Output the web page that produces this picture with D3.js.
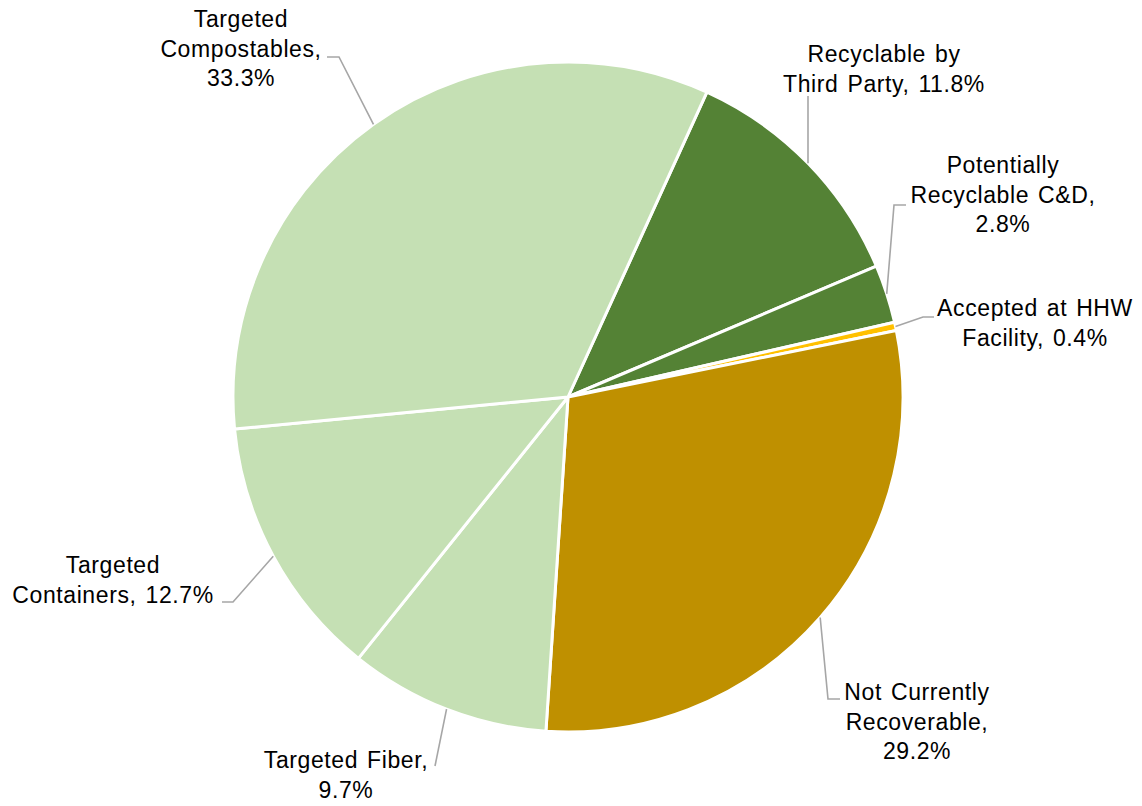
<!DOCTYPE html>
<html>
<head>
<meta charset="utf-8">
<script src="https://cdn.jsdelivr.net/npm/d3@7"></script>
<style>
  html, body { margin: 0; padding: 0; background: #ffffff; }
  svg { display: block; }
  .lbl { font-family: "Liberation Sans", Arial, sans-serif; font-size: 23px; fill: #000; letter-spacing: 0.6px; word-spacing: 2px; }
</style>
</head>
<body>
<svg id="chart" width="1142" height="806"></svg>
<script>
// Waste composition shares (percent), in clockwise drawing order
const categories = [
  "Recyclable by Third Party",
  "Potentially Recyclable C&D",
  "Accepted at HHW Facility",
  "Not Currently Recoverable",
  "Targeted Fiber",
  "Targeted Containers",
  "Targeted Compostables"
];
const shares = [11.8, 2.8, 0.4, 29.2, 9.7, 12.7, 33.3];
const sliceColors = ["#548235", "#548235", "#FFC000", "#BF9000", "#C5E0B4", "#C5E0B4", "#C5E0B4"];

// Label text lines per slice
const labelLines = [
  ["Recyclable by", "Third Party, 11.8%"],
  ["Potentially", "Recyclable C&D,", "2.8%"],
  ["Accepted at HHW", "Facility, 0.4%"],
  ["Not Currently", "Recoverable,", "29.2%"],
  ["Targeted Fiber,", "9.7%"],
  ["Targeted", "Containers, 12.7%"],
  ["Targeted", "Compostables,", "33.3%"]
];

// Label placement: text centre x, first baseline y, and leader start points
const labelPos = [
  { x: 884,  y: 62,  leader: [[808, 96]] },
  { x: 1003, y: 173, leader: [[906, 205], [894, 205]] },
  { x: 1035, y: 316, leader: [[934, 317], [923, 317]] },
  { x: 917,  y: 700, leader: [[840, 699], [828, 699]] },
  { x: 346,  y: 768, leader: [[435, 766]] },
  { x: 113,  y: 573, leader: [[222, 602], [233, 602]] },
  { x: 241,  y: 27,  leader: [[327, 57], [339, 57]] }
];
const lineHeight = 29.5;

const cx = 568, cy = 397, radius = 335;
const startDeg = 24.5;

const svg = d3.select("#chart");
const g = svg.append("g").attr("transform", `translate(${cx},${cy})`);

const pie = d3.pie()
  .sort(null)
  .value(d => d)
  .startAngle(startDeg * Math.PI / 180)
  .endAngle((startDeg + 360) * Math.PI / 180);

const arcs = pie(shares);
const arc = d3.arc().innerRadius(0).outerRadius(radius);

g.selectAll("path.slice")
  .data(arcs)
  .join("path")
  .attr("class", "slice")
  .attr("d", arc)
  .attr("fill", (d, i) => sliceColors[i])
  .attr("stroke", "#ffffff")
  .attr("stroke-width", 3)
  .attr("stroke-linejoin", "round");

// Leader lines from each label to the outer edge of its slice
const line = d3.line();
svg.selectAll("path.leader")
  .data(arcs)
  .join("path")
  .attr("class", "leader")
  .attr("fill", "none")
  .attr("stroke", "#A6A6A6")
  .attr("stroke-width", 1.6)
  .attr("d", (d, i) => {
    const mid = (d.startAngle + d.endAngle) / 2;
    const end = [cx + radius * Math.sin(mid), cy - radius * Math.cos(mid)];
    return line([...labelPos[i].leader, end]);
  });

// Labels
const labels = svg.selectAll("text.lbl")
  .data(categories)
  .join("text")
  .attr("class", "lbl")
  .attr("text-anchor", "middle")
  .attr("x", (d, i) => labelPos[i].x)
  .attr("y", (d, i) => labelPos[i].y);

labels.each(function (d, i) {
  d3.select(this).selectAll("tspan")
    .data(labelLines[i])
    .join("tspan")
    .attr("x", labelPos[i].x)
    .attr("dy", (t, j) => j === 0 ? 0 : lineHeight)
    .text(t => t);
});
</script>
</body>
</html>
